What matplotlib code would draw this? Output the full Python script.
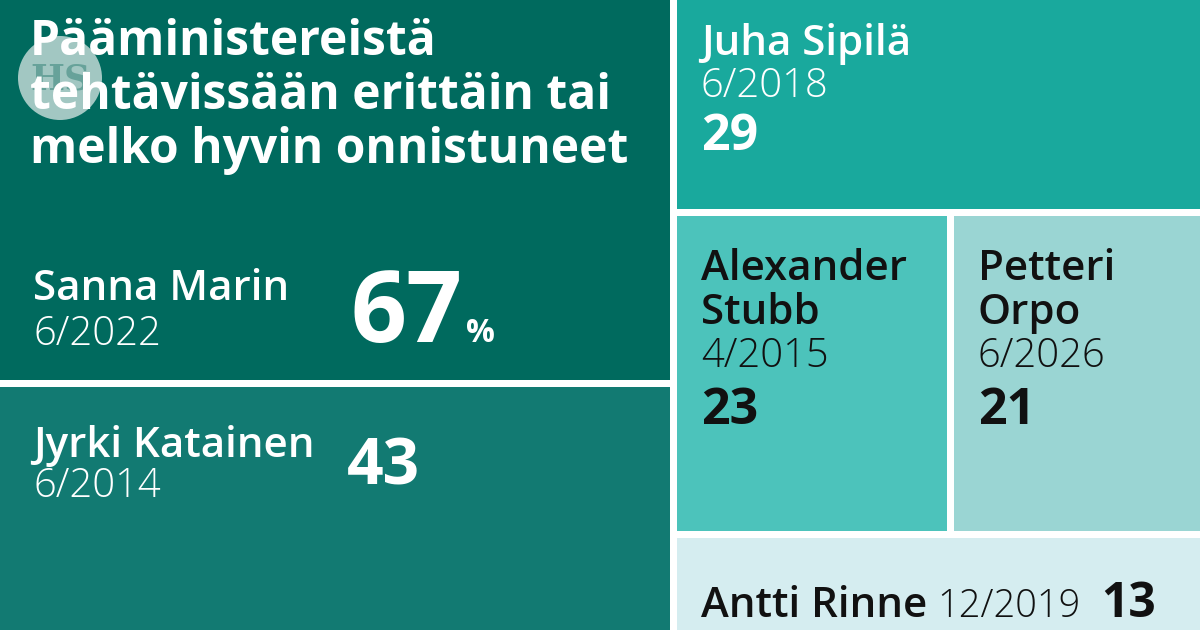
import matplotlib
matplotlib.use("Agg")
import matplotlib.pyplot as plt
from matplotlib.patches import Rectangle, Circle

# ---- data ----
names = ["Sanna Marin", "Jyrki Katainen", "Juha Sipilä", "Alexander\nStubb", "Petteri\nOrpo", "Antti Rinne"]
dates = ["6/2022", "6/2014", "6/2018", "4/2015", "6/2026", "12/2019"]
values = [67, 43, 29, 23, 21, 13]
colors = ["#006a5e", "#127a72", "#19a99d", "#4cc3bb", "#9ad5d3", "#d5edf0"]
title = "Pääministereistä\ntehtävissään erittäin tai\nmelko hyvin onnistuneet"

W, H, gap = 1200.0, 630.0, 7.0
PX = 72 / 100.0  # points per pixel at dpi 100

fig = plt.figure(figsize=(12, 6.3), dpi=100)
fig.patch.set_facecolor("white")
ax = fig.add_axes([0, 0, 1, 1])
ax.set_xlim(0, W)
ax.set_ylim(H, 0)
ax.axis("off")

total = sum(values)
left_sum = values[0] + values[1]
right_sum = total - left_sum
left_w = W * left_sum / total

# rectangles (x0, y0, x1, y1) computed from values
rects = []
ym = H * values[0] / left_sum
rects.append((0, 0, left_w - gap / 2, ym - gap / 2))
rects.append((0, ym + gap / 2, left_w - gap / 2, H))
rx0 = left_w + gap / 2
y1 = H * values[2] / right_sum
y2 = H * (values[2] + values[3] + values[4]) / right_sum
rects.append((rx0, 0, W, y1 - gap / 2))
xs = rx0 + (W - rx0) * values[3] / (values[3] + values[4])
rects.append((rx0, y1 + gap / 2, xs - gap / 2, y2 - gap / 2))
rects.append((xs + gap / 2, y1 + gap / 2, W, y2 - gap / 2))
rects.append((rx0, y2 + gap / 2, W, H + 30))

for (x0, a0, x1, a1), c in zip(rects, colors):
    ax.add_patch(Rectangle((x0, a0), x1 - x0, a1 - a0, facecolor=c, edgecolor="none"))

FAM = ["Open Sans", "DejaVu Sans"]
NAME_PX, DATE_PX = 42, 40


def T(x, y, s, px, weight="normal", color="white", **kw):
    ax.text(x, y, s, fontsize=px * PX, fontweight=weight, color=color,
            family=FAM, va="baseline", ha="left", **kw)


# logo
ax.add_patch(Circle((60, 78), 42, facecolor="#e8f0ee", alpha=0.7, edgecolor="none"))
ax.text(60, 80, "HS", fontsize=36 * PX, color="#5d9c93", family=["DejaVu Serif"],
        fontweight="bold", ha="center", va="center", alpha=0.85)

# title
for i, line in enumerate(title.split("\n")):
    T(30, 55 + i * 54, line, 48, weight="bold")

# Marin
T(33, 300, names[0], NAME_PX, weight="semibold")
T(33, 345, dates[0], DATE_PX, weight="light")
T(350, 342, str(values[0]), 98, weight="bold")
T(466, 342, "%", 32, weight="bold")

# Katainen
t1 = rects[1][1]
T(33, t1 + 70, names[1], NAME_PX, weight="semibold")
T(33, t1 + 110, dates[1], DATE_PX, weight="light")
T(347, t1 + 97, str(values[1]), 64, weight="bold")

# Sipilä
rx = rects[2][0] + 24
T(rx, 55, names[2], NAME_PX, weight="semibold")
T(rx, 97, dates[2], DATE_PX, weight="light")
T(rx, 150, str(values[2]), 50, weight="bold")

# Stubb & Orpo
for k in (3, 4):
    bx, by = rects[k][0] + 24, rects[k][1] - 6
    l1, l2 = names[k].split("\n")
    T(bx, by + 70, l1, NAME_PX, weight="semibold", color="#111111")
    T(bx, by + 114, l2, NAME_PX, weight="semibold", color="#111111")
    T(bx, by + 157, dates[k], DATE_PX, weight="light", color="#111111")
    T(bx, by + 214, str(values[k]), 50, weight="bold", color="#111111")

# Rinne
bx = rects[5][0]
by = 617
T(bx + 24, by, names[5], NAME_PX, weight="semibold", color="#111111")
T(bx + 260, by, dates[5], 38, weight="light", color="#111111")
T(bx + 424, by, str(values[5]), 48, weight="bold", color="#111111")

fig.savefig("out.png", dpi=100, facecolor="white")
